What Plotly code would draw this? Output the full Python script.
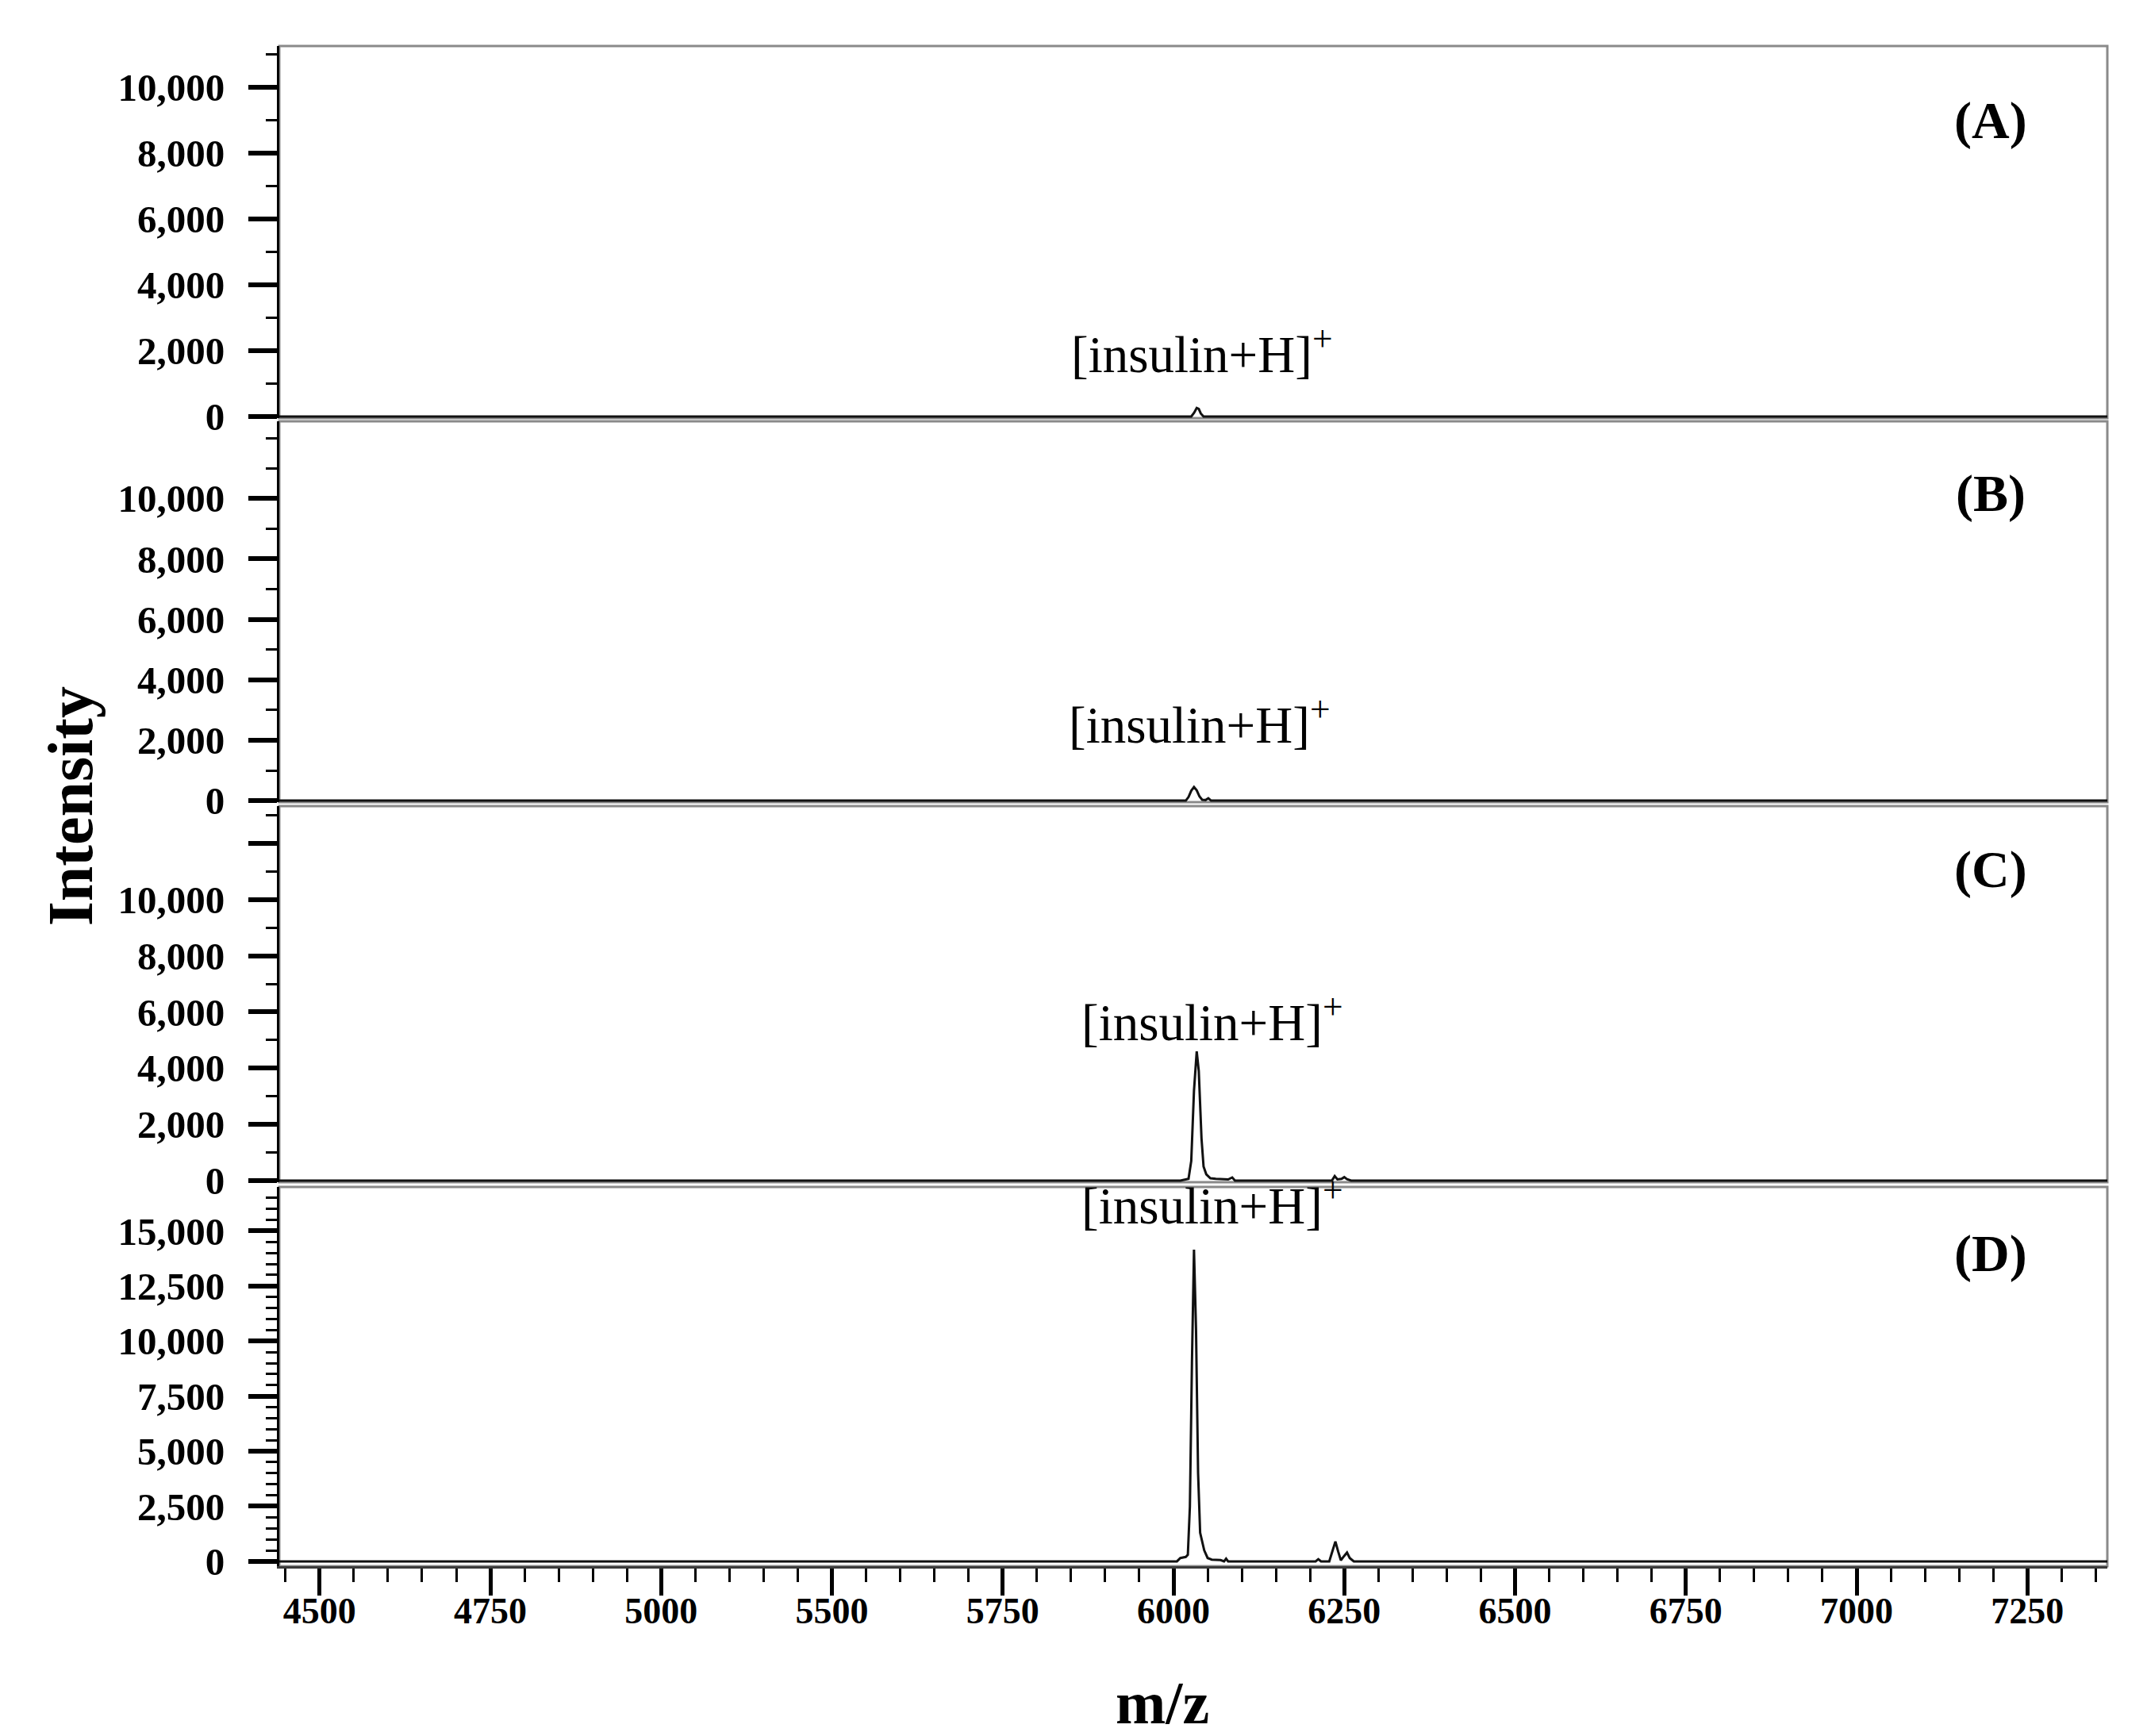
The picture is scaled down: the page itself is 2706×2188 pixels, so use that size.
import plotly.graph_objects as go
from plotly.subplots import make_subplots

SERIF = "Liberation Serif"

# spectra, one per panel (m/z, intensity)
mz_a = [4441, 5776, 5780, 5784, 5787, 5790, 5794, 7117]
int_a = [0, 0, 110, 260, 230, 90, 0, 0]

mz_b = [4441, 5768, 5772, 5776, 5780, 5784, 5788, 5792, 5797, 5801, 5805, 7117]
int_b = [0, 0, 120, 330, 450, 340, 140, 30, 20, 80, 0, 0]

mz_c = [4441, 5760, 5768, 5772, 5776, 5780, 5784, 5787, 5791, 5794, 5798, 5804,
        5812, 5830, 5836, 5840, 5982, 5986, 5990, 5996, 6000, 6004, 6010, 7117]
int_c = [0, 0, 40, 60, 700, 3200, 4600, 3900, 1500, 500, 220, 80,
         60, 40, 110, 0, 0, 160, 40, 60, 120, 50, 0, 0]

mz_d = [4441, 5755, 5760, 5768, 5771, 5774, 5777, 5780, 5783, 5786, 5789, 5792,
        5795, 5800, 5806, 5819, 5824, 5827, 5830, 5958, 5962, 5966, 5978, 5983,
        5987, 5991, 5995, 6000, 6004, 6008, 6014, 7117]
int_d = [0, 0, 150, 200, 300, 2500, 9000, 14150, 10500, 4000, 1300, 900,
         500, 150, 80, 60, 0, 120, 0, 0, 100, 0, 0, 500,
         900, 450, 50, 250, 400, 150, 0, 0]

panel_names = ["(A)", "(B)", "(C)", "(D)"]
peak_label = "[insulin+H]<sup>+</sup>"

# tick labels exactly as printed on the original axis
xtick_text = ["4500", "4750", "5000", "5500", "5750", "6000",
              "6250", "6500", "6750", "7000", "7250"]
ytick_small = [0, 2000, 4000, 6000, 8000, 10000]
ytick_d = [0, 2500, 5000, 7500, 10000, 12500, 15000]

spectra = [(mz_a, int_a), (mz_b, int_b), (mz_c, int_c), (mz_d, int_d)]

# layout per panel: domain, y range, label positions (data units)
domains = [[0.7552, 1.0], [0.5026, 0.7531], [0.2526, 0.5], [0.0, 0.2495]]
yranges = [[-50, 11250], [-50, 12550], [-60, 13330], [-220, 17000]]
lab_pos = [(5598, 2000), (5594, 2630), (5613, 5770), (5613, 16320)]
tag_y = [8985, 10160, 11070, 13980]

fig = make_subplots(rows=4, cols=1, shared_xaxes=True, vertical_spacing=0.003)

for i, (mz, inten) in enumerate(spectra):
    fig.add_trace(go.Scatter(x=mz, y=inten, mode="lines",
                             line=dict(color="#111111", width=3),
                             showlegend=False), row=i + 1, col=1)

tickfont = dict(family=SERIF, size=49, color="black", weight="bold")

for i in range(4):
    n = "" if i == 0 else str(i + 1)
    if i < 3:
        major = ytick_small + ([12000] if i == 2 else [])
        text = [f"{v:,}" for v in ytick_small] + ([""] if i == 2 else [])
        minor_vals = [v for v in range(1000, 14000, 1000) if v not in major]
    else:
        major = ytick_d
        text = [f"{v:,}" for v in ytick_d]
        minor_vals = [v for v in range(500, 17000, 500) if v not in major]
    fig.layout["yaxis" + n].update(
        domain=domains[i], range=yranges[i], showgrid=False, zeroline=False,
        showline=True, linecolor="black", linewidth=3,
        tickmode="array", tickvals=major, ticktext=text,
        ticks="outside", ticklen=36, tickwidth=6, tickcolor="black",
        tickfont=tickfont, ticklabelstandoff=20,
        minor=dict(tickmode="array", tickvals=minor_vals, ticks="outside",
                   ticklen=14, tickwidth=3, tickcolor="black", showgrid=False))
    fig.layout["xaxis" + n].update(range=[4441, 7117], showgrid=False, zeroline=False)
    # gray frame round each panel
    fig.add_shape(type="rect", xref="x" + n + " domain", yref="y" + n + " domain",
                  x0=0, x1=1, y0=0, y1=1, line=dict(color="#8a8a8a", width=3),
                  layer="below")
    fig.add_annotation(x=lab_pos[i][0], y=lab_pos[i][1], xref="x" + n, yref="y" + n,
                       text=peak_label, showarrow=False, xanchor="left", yanchor="middle",
                       font=dict(family=SERIF, size=65, color="black"))
    fig.add_annotation(x=6946, y=tag_y[i], xref="x" + n, yref="y" + n,
                       text=panel_names[i], showarrow=False, xanchor="center",
                       yanchor="middle",
                       font=dict(family=SERIF, size=66, color="black", weight="bold"))

fig.layout.xaxis4.update(
    showline=True, linecolor="#3a3a3a", linewidth=3,
    tickmode="array", tickvals=[4500 + 250 * k for k in range(len(xtick_text))],
    ticktext=xtick_text, ticks="outside", ticklen=34, tickwidth=5, tickcolor="black",
    showticklabels=True, ticklabelstandoff=-20,
    tickfont=dict(family=SERIF, size=46, color="black", weight="bold"),
    minor=dict(tickmode="array", tickvals=list(range(4450, 7101, 50)), ticks="outside",
               ticklen=17, tickwidth=2.5, tickcolor="black"))

fig.add_annotation(x=-0.114, y=0.5, xref="paper", yref="paper", text="Intensity",
                   textangle=-90, showarrow=False, xanchor="center", yanchor="middle",
                   font=dict(family=SERIF, size=80, color="black", weight="bold"))
fig.add_annotation(x=0.483, y=-0.090, xref="paper", yref="paper", text="m/z",
                   showarrow=False, xanchor="center", yanchor="middle",
                   font=dict(family=SERIF, size=76, color="black", weight="bold"))

fig.update_layout(width=2706, height=2188, plot_bgcolor="white", paper_bgcolor="white",
                  margin=dict(l=344, r=58, t=50, b=222, autoexpand=False))

fig.write_html("out.html")
